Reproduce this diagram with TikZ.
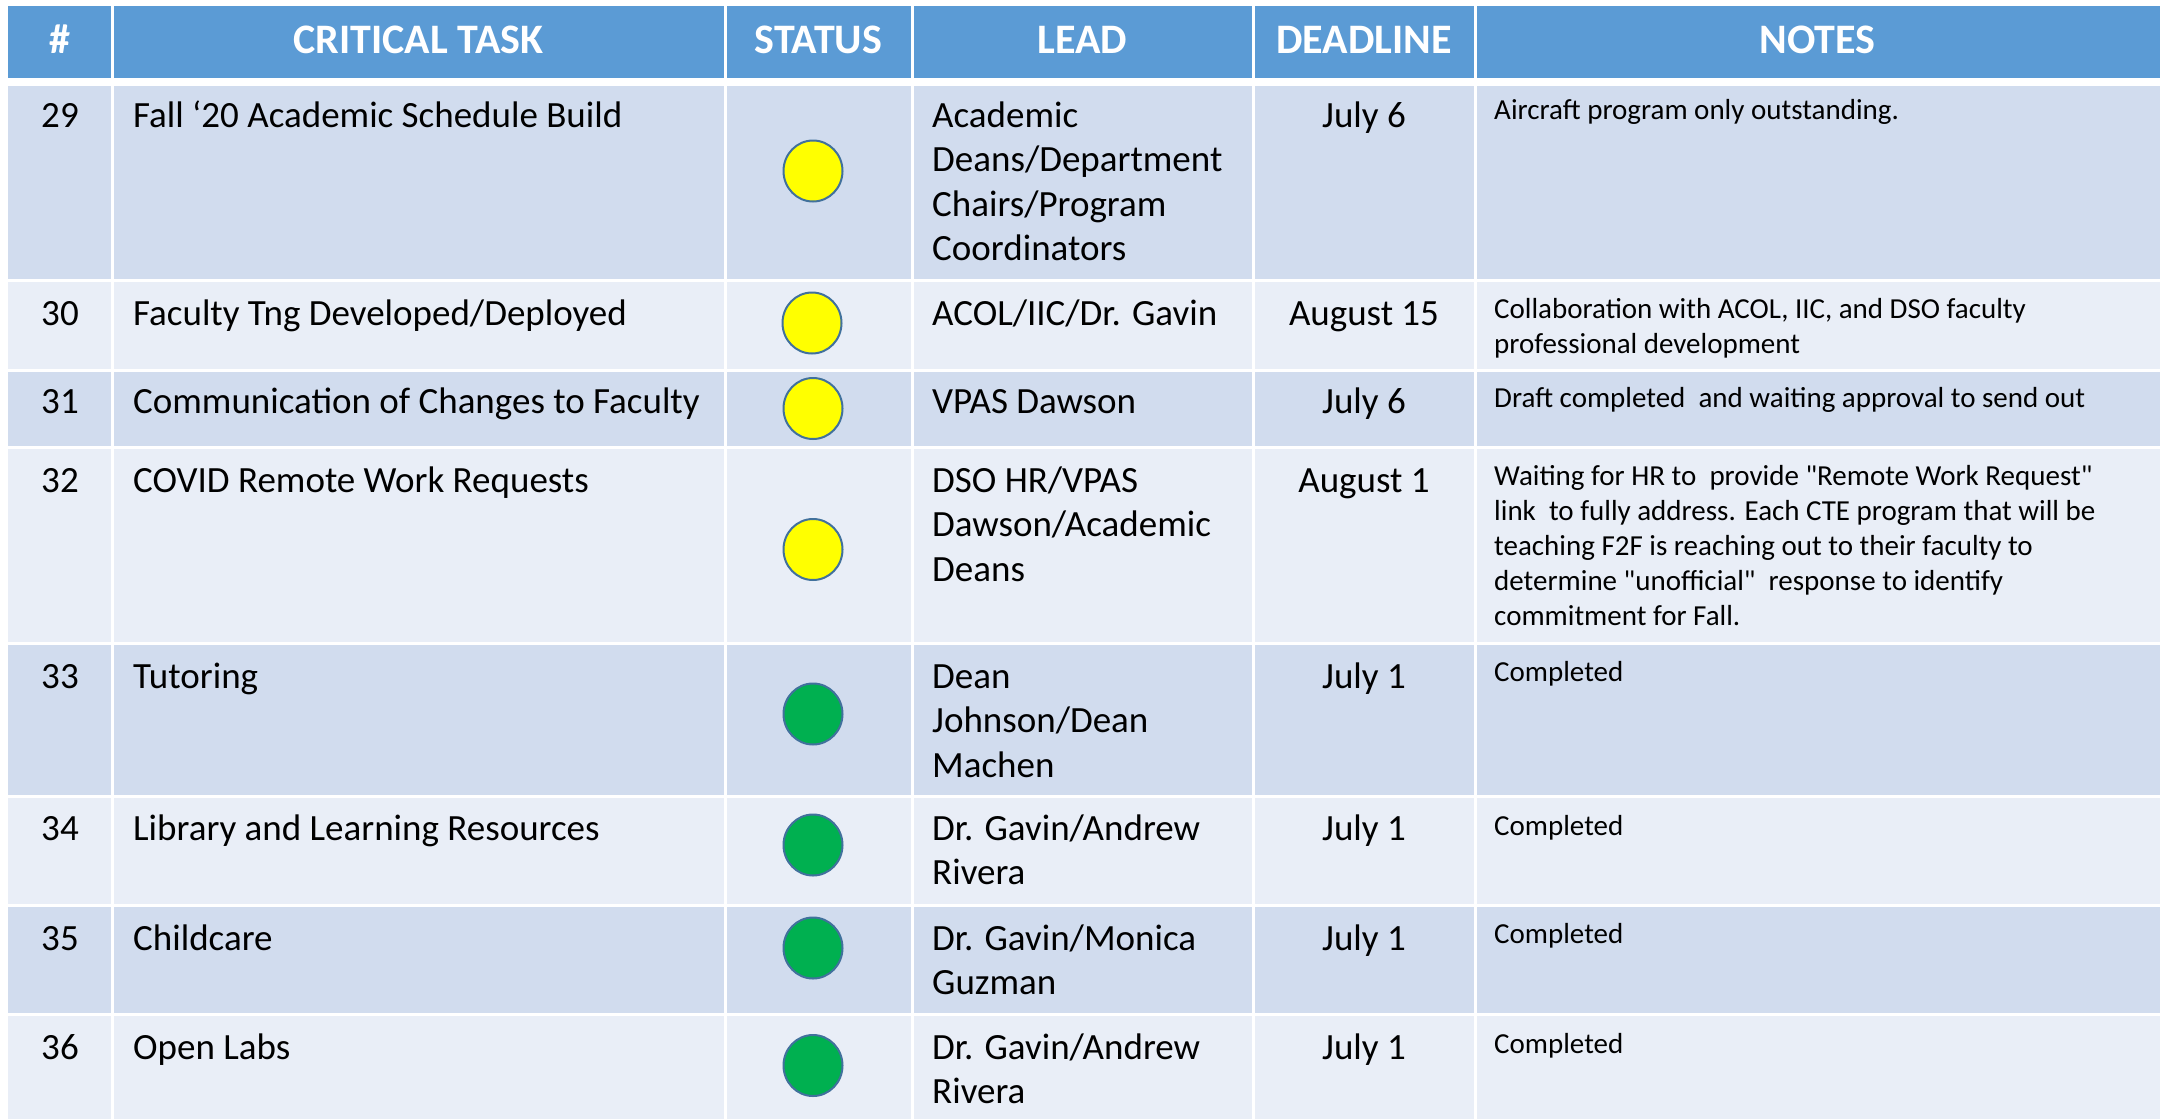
\documentclass[tikz,border=0pt]{standalone}
\usepackage{fontspec}
\setmainfont{Carlito}[Ligatures=TeXOff]
\usetikzlibrary{shapes.geometric}
\definecolor{hdr}{HTML}{5B9BD5}
\definecolor{bandA}{HTML}{D1DCEE}
\definecolor{bandB}{HTML}{E9EEF7}
\definecolor{yel}{HTML}{FFFF00}
\definecolor{grn}{HTML}{00B050}
\definecolor{rim}{HTML}{41719C}
\tikzset{
  hdrtext/.style={text=white, font=\fontsize{42}{50}\selectfont\bfseries, inner sep=0pt, anchor=base},
  numtext/.style={font=\fontsize{37}{44.5}\selectfont, inner sep=0pt, anchor=base},
  celltext/.style={font=\fontsize{37}{44.5}\selectfont, inner sep=0pt, anchor=base west},
  notetext/.style={font=\fontsize{29}{35}\selectfont, inner sep=0pt, anchor=base west},
  dot/.style={shape=ellipse, draw=rim, line width=2pt, minimum width=59pt, minimum height=61pt, inner sep=0pt},
  ydot/.style={dot, fill=yel},
  gdot/.style={dot, fill=grn},
  sep/.style={white, line width=3pt}
}
\begin{document}
\begin{tikzpicture}[x=1pt,y=-1pt]
\useasboundingbox (0,0) rectangle (2160,1119);
\fill[white] (0,0) rectangle (2160,1119);
% bands
\fill[hdr]   (8,6)    rectangle (2160,78);
\fill[bandA] (8,86)   rectangle (2160,279);
\fill[bandB] (8,282)  rectangle (2160,369);
\fill[bandA] (8,372)  rectangle (2160,446);
\fill[bandB] (8,449)  rectangle (2160,642);
\fill[bandA] (8,645)  rectangle (2160,795);
\fill[bandB] (8,798)  rectangle (2160,904);
\fill[bandA] (8,907)  rectangle (2160,1013);
\fill[bandB] (8,1016) rectangle (2160,1119);
% column separators
\foreach \cx in {112,725,912,1253,1475} \draw[sep] (\cx,6) -- (\cx,1119);
% header
\node[hdrtext] (h1) at (60,53.3) {\#};
\node[hdrtext] (h2) at (418.5,53.3) {CRITICAL TASK};
\node[hdrtext] (h3) at (818.5,53.3) {STATUS};
\node[hdrtext] (h4) at (1082.5,53.3) {LEAD};
\node[hdrtext] (h5) at (1364,53.3) {DEADLINE};
\node[hdrtext] (h6) at (1817.5,53.3) {NOTES};
% row 29
\node[numtext]  (n29) at (60,127) {29};
\node[celltext] (t29) at (133,127) {Fall ‘20 Academic Schedule Build};
\node[ydot]     (s29) at (813,171) {};
\node[celltext] (l29) at (932,127) {\parbox[t]{320pt}{\raggedright Academic\\Deans/Department\\Chairs/Program\\Coordinators}};
\node[numtext]  (d29) at (1364,127) {July 6};
\node[notetext] (o29) at (1494,119) {Aircraft program only outstanding.};
% row 30
\node[numtext]  (n30) at (60,325) {30};
\node[celltext] (t30) at (133,325) {Faculty Tng Developed/Deployed};
\node[ydot]     (s30) at (812,323) {};
\node[celltext] (l30) at (932,325) {ACOL/IIC/Dr. Gavin};
\node[numtext]  (d30) at (1364,325) {August 15};
\node[notetext] (o30) at (1494,318) {\parbox[t]{650pt}{\raggedright Collaboration with ACOL, IIC, and DSO faculty\\professional development}};
% row 31
\node[numtext]  (n31) at (60,413) {31};
\node[celltext] (t31) at (133,413) {Communication of Changes to Faculty};
\node[ydot]     (s31) at (813,408.5) {};
\node[celltext] (l31) at (932,413) {VPAS Dawson};
\node[numtext]  (d31) at (1364,413) {July 6};
\node[notetext] (o31) at (1494,407) {Draft completed\ \ and waiting approval to send out};
% row 32
\node[numtext]  (n32) at (60,492) {32};
\node[celltext] (t32) at (133,492) {COVID Remote Work Requests};
\node[ydot]     (s32) at (813,549.5) {};
\node[celltext] (l32) at (932,492) {\parbox[t]{320pt}{\raggedright DSO HR/VPAS\\Dawson/Academic\\Deans}};
\node[numtext]  (d32) at (1364,492) {August 1};
\node[notetext] (o32) at (1494,485) {\parbox[t]{650pt}{\raggedright Waiting for HR to\ \ provide "Remote Work Request"\\link\ \ to fully address. Each CTE program that will be\\teaching F2F is reaching out to their faculty to\\determine "unofficial"\ \ response to identify\\commitment for Fall.}};
% row 33
\node[numtext]  (n33) at (60,688) {33};
\node[celltext] (t33) at (133,688) {Tutoring};
\node[gdot]     (s33) at (813,714) {};
\node[celltext] (l33) at (932,688) {\parbox[t]{320pt}{\raggedright Dean\\Johnson/Dean\\Machen}};
\node[numtext]  (d33) at (1364,688) {July 1};
\node[notetext] (o33) at (1494,681) {Completed};
% row 34
\node[numtext]  (n34) at (60,840) {34};
\node[celltext] (t34) at (133,840) {Library and Learning Resources};
\node[gdot]     (s34) at (813,845) {};
\node[celltext] (l34) at (932,840) {\parbox[t]{320pt}{\raggedright Dr. Gavin/Andrew\\Rivera}};
\node[numtext]  (d34) at (1364,840) {July 1};
\node[notetext] (o34) at (1494,835) {Completed};
% row 35
\node[numtext]  (n35) at (60,950) {35};
\node[celltext] (t35) at (133,950) {Childcare};
\node[gdot]     (s35) at (813,948) {};
\node[celltext] (l35) at (932,950) {\parbox[t]{320pt}{\raggedright Dr. Gavin/Monica\\Guzman}};
\node[numtext]  (d35) at (1364,950) {July 1};
\node[notetext] (o35) at (1494,943) {Completed};
% row 36
\node[numtext]  (n36) at (60,1059) {36};
\node[celltext] (t36) at (133,1059) {Open Labs};
\node[gdot]     (s36) at (813,1065.5) {};
\node[celltext] (l36) at (932,1059) {\parbox[t]{320pt}{\raggedright Dr. Gavin/Andrew\\Rivera}};
\node[numtext]  (d36) at (1364,1059) {July 1};
\node[notetext] (o36) at (1494,1053) {Completed};
\end{tikzpicture}
\end{document}
